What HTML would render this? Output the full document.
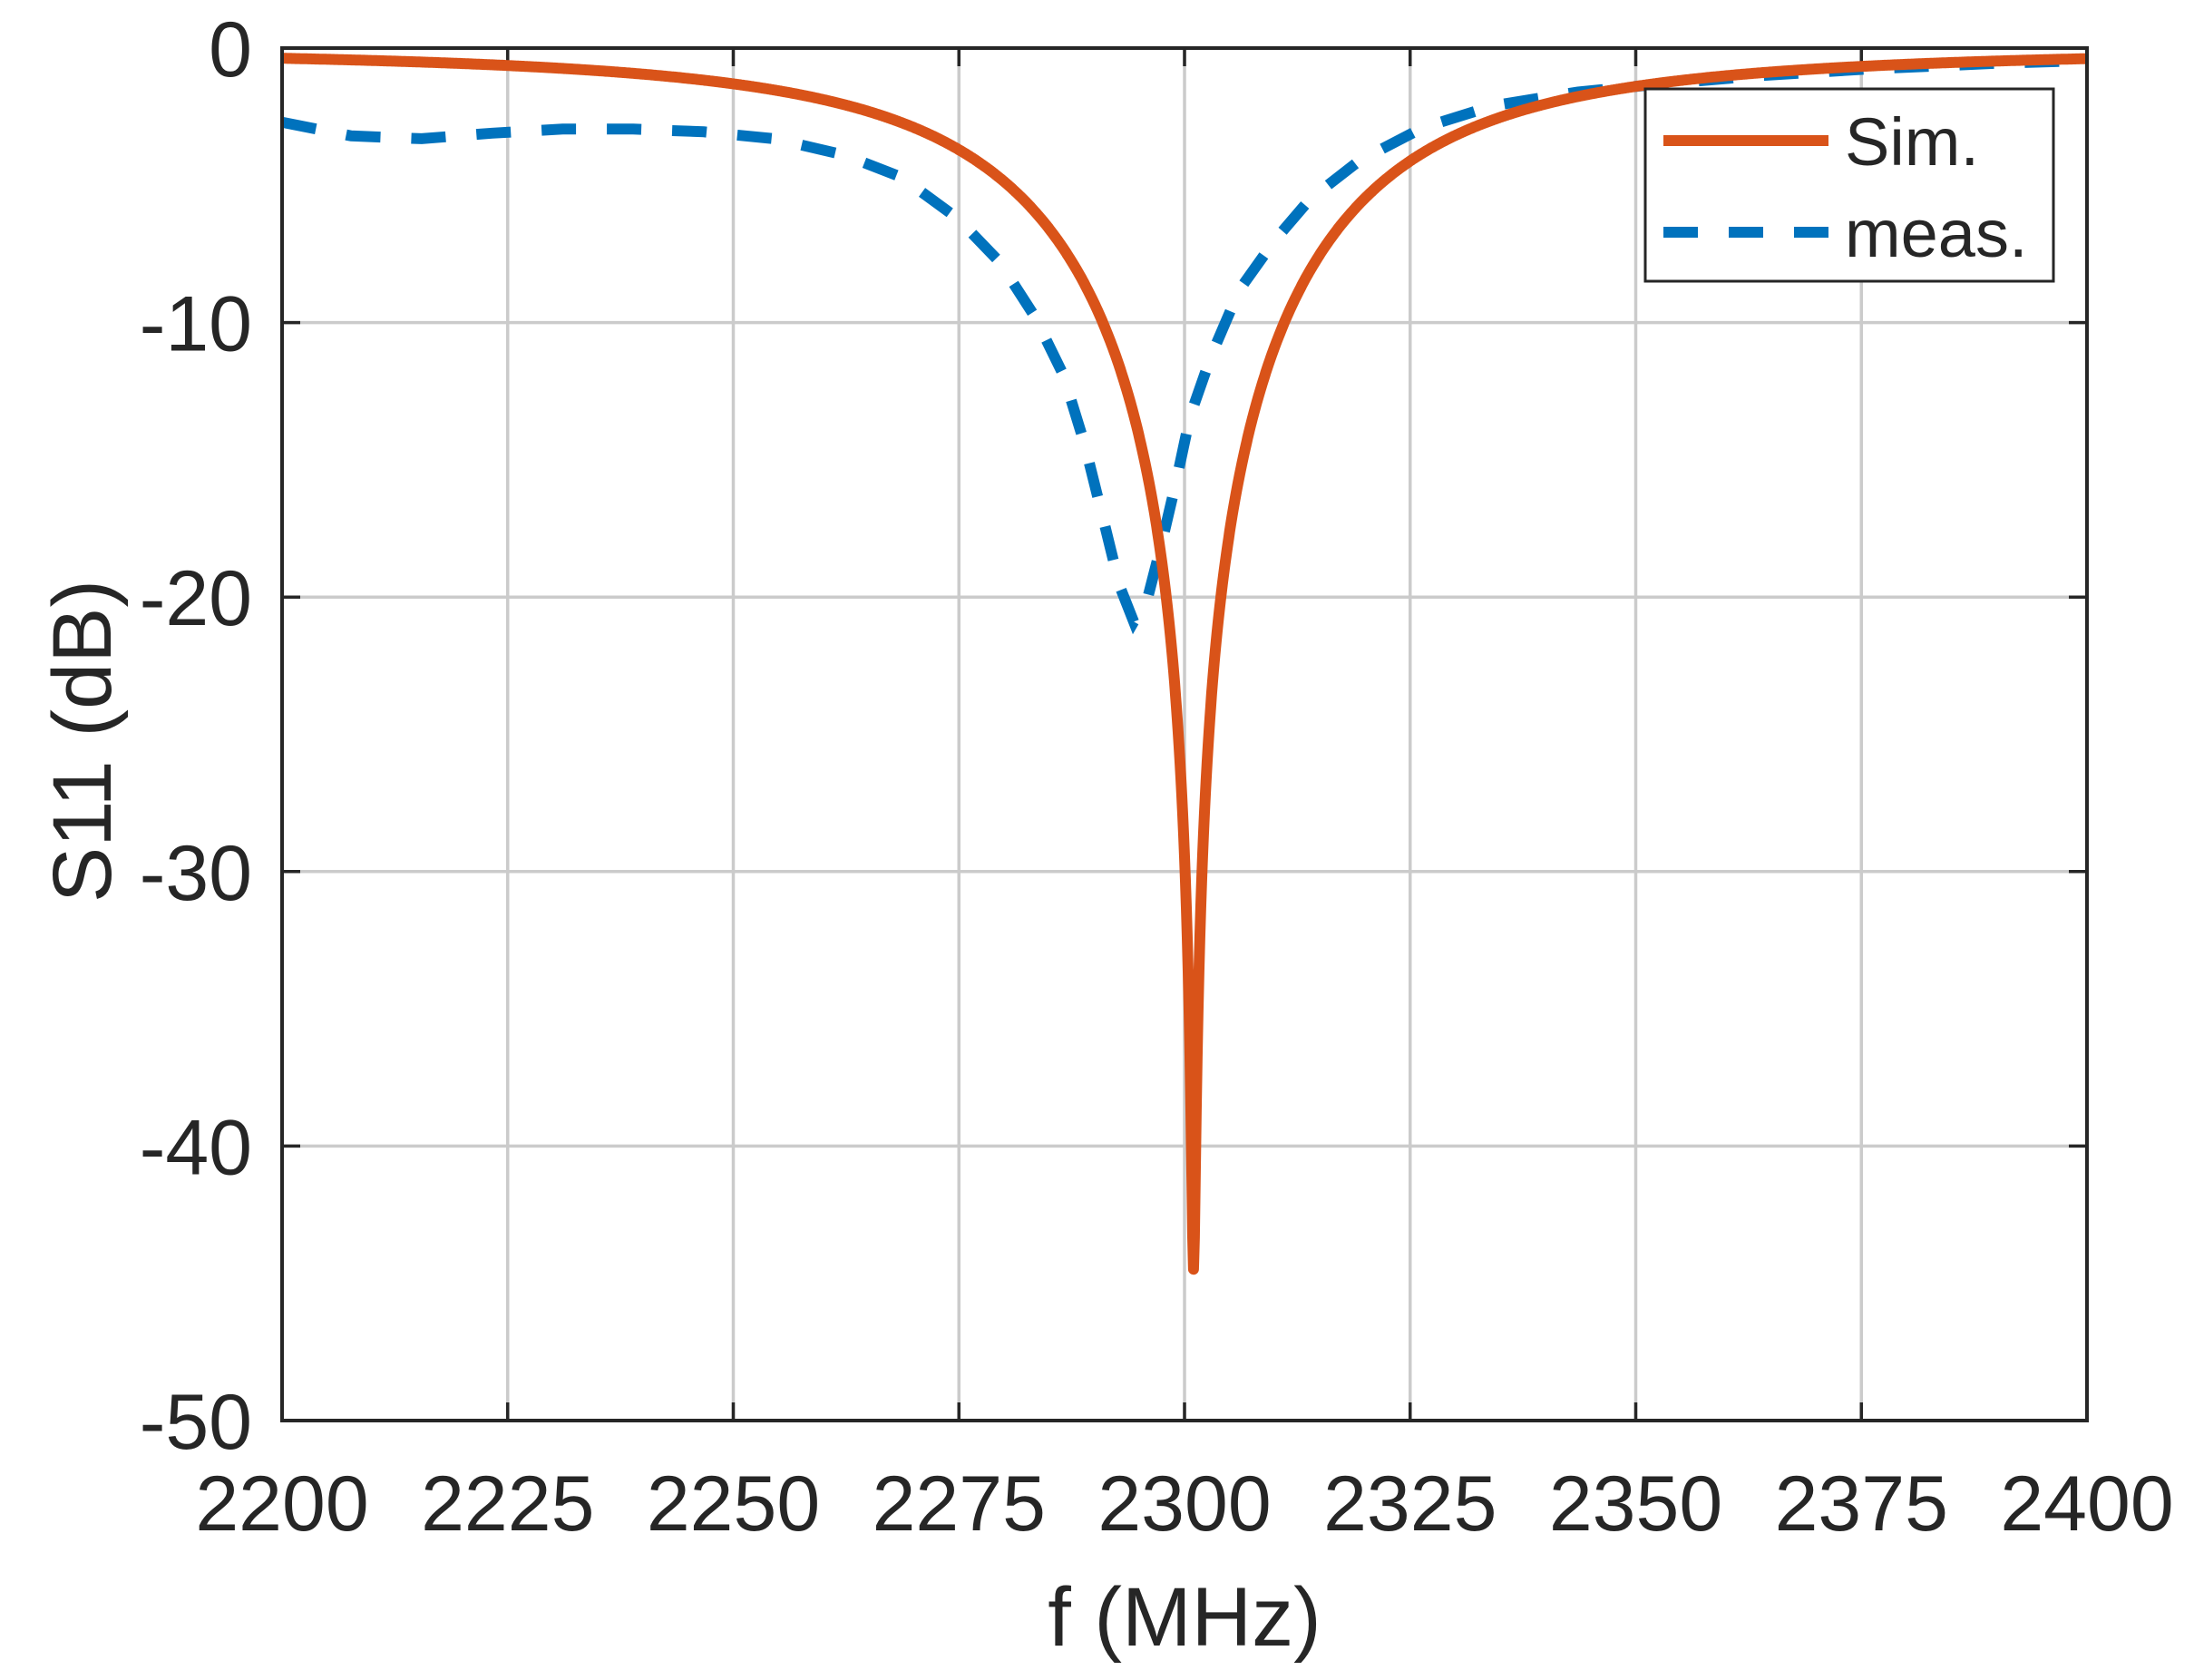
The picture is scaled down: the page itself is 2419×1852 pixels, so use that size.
<!DOCTYPE html>
<html><head><meta charset="utf-8"><style>html,body{margin:0;padding:0;background:#fff}svg{display:block}</style></head>
<body>
<svg id="s" width="2419" height="1852" xmlns="http://www.w3.org/2000/svg" font-family="Liberation Sans, Arial, sans-serif">
<rect width="2419" height="1852" fill="#fff"/>
<g id="grid" stroke="#cbcbcb" stroke-width="3.5"></g>
<g id="ticks" stroke="#262626" stroke-width="3.5"></g>
<g id="labels" fill="#262626" font-size="86"></g>
<clipPath id="cp"><rect x="311" y="53" width="1990" height="1513"/></clipPath>
<g clip-path="url(#cp)">
<path id="meas" fill="none" stroke="#0072BD" stroke-width="12" stroke-dasharray="38 34"/>
<path id="sim" fill="none" stroke="#D95319" stroke-width="12" stroke-linejoin="round"/>
</g>
<rect x="311" y="53" width="1990" height="1513" fill="none" stroke="#262626" stroke-width="4"/>
<text x="1306" y="1814" font-size="92" text-anchor="middle" fill="#262626">f (MHz)</text>
<text transform="translate(122,817) rotate(-90)" font-size="92" text-anchor="middle" fill="#262626">S11 (dB)</text>
<rect x="1814" y="98" width="450" height="212" fill="#fff" stroke="#262626" stroke-width="3"/>
<line x1="1834" y1="155" x2="2016" y2="155" stroke="#D95319" stroke-width="12"/>
<line x1="1834" y1="256" x2="2016" y2="256" stroke="#0072BD" stroke-width="12" stroke-dasharray="38 34"/>
<text x="2034" y="182" font-size="74" fill="#262626">Sim.</text>
<text x="2034" y="283" font-size="74" fill="#262626">meas.</text>
</svg>
<script>
var L=311,R=2301,T=53,B=1566;
function X(f){return L+(f-2200)/200*(R-L);}
function Y(d){return T+(-d)/50*(B-T);}
var ns="http://www.w3.org/2000/svg";
var g=document.getElementById('grid'),tk=document.getElementById('ticks'),lb=document.getElementById('labels');
function el(p,n,a,t){var e=document.createElementNS(ns,n);for(var k in a)e.setAttribute(k,a[k]);if(t!==undefined)e.textContent=t;p.appendChild(e);}
for(var f=2200;f<=2400;f+=25){var x=X(f);
 if(f>2200&&f<2400)el(g,'line',{x1:x,y1:T,x2:x,y2:B});
 el(tk,'line',{x1:x,y1:B,x2:x,y2:B-20});el(tk,'line',{x1:x,y1:T,x2:x,y2:T+20});
 el(lb,'text',{x:x,y:1687,'text-anchor':'middle'},f);}
for(var d=0;d>=-50;d-=10){var y=Y(d);
 if(d<0&&d>-50)el(g,'line',{x1:L,y1:y,x2:R,y2:y});
 el(tk,'line',{x1:L,y1:y,x2:L+20,y2:y});el(tk,'line',{x1:R,y1:y,x2:R-20,y2:y});
 el(lb,'text',{x:278,y:y+31,'text-anchor':'end'},d);}
// sim
var p=[];var r=1.012,f0=2301;
for(var f=2200;f<=2400;f+=0.1){
 var k=(f<f0)?0.0667:0.0667;var x=k*(f-f0);
 var re1=r-1,re2=r+1;var g2=(re1*re1+x*x)/(re2*re2+x*x);
 var db=10*Math.log10(g2);p.push((p.length?'L':'M')+X(f).toFixed(1)+','+Y(db).toFixed(1));}
document.getElementById('sim').setAttribute('d',p.join(''));
// meas (displayed coords -> data)
var pts=[[201,-2.7],[250,-3.2],[300,-3.3],[350,-3.1],[400,-2.95],[450,-2.95],[500,-3.05],[550,-3.3],[600,-3.9],[640,-4.7],[680,-6.2],[710,-7.8],[735,-9.8],[755,-11.9],[770,-14.4],[785,-17.5],[795,-19.6],[805,-20.9],[815,-20],[825,-18],[835,-15.8],[845,-13.4],[860,-11.2],[880,-8.8],[905,-7],[930,-5.5],[965,-4.1],[1010,-2.9],[1060,-2.1],[1120,-1.6],[1170,-1.35],[1250,-1.0],[1330,-0.75],[1420,-0.55],[1491,-0.46]];
var q=pts.map(function(a,i){var f=(a[0]-201)/6.4+2200;if(i==pts.length-1)f=2400;return (i?'L':'M')+X(f).toFixed(1)+','+Y(a[1]).toFixed(1);});
document.getElementById('meas').setAttribute('d',q.join(''));
</script>
</body></html>
